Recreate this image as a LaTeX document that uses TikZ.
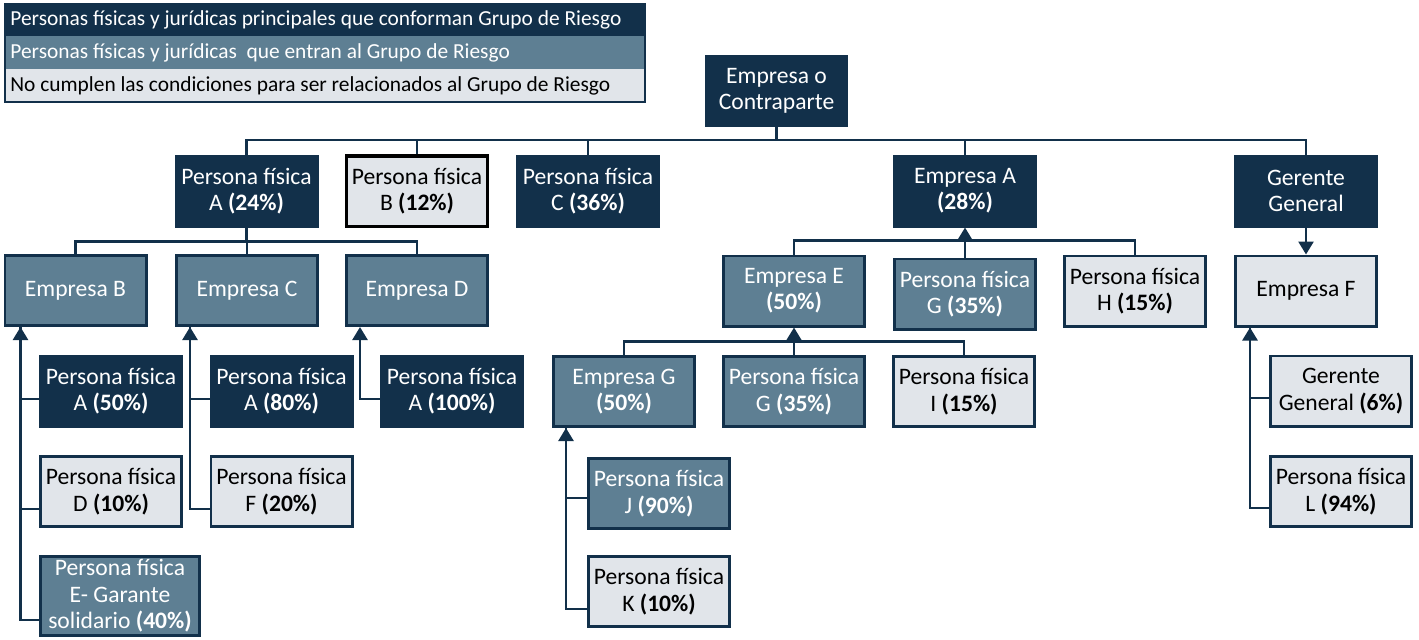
\documentclass[tikz,border=0pt]{standalone}
\usepackage{fontspec}
\setmainfont{Carlito}
\usetikzlibrary{arrows.meta,calc}
\definecolor{dk}{HTML}{12304A}
\definecolor{sl}{HTML}{5E7F93}
\definecolor{lt}{HTML}{E1E5EA}
\newcommand\fs{\fontsize{11.8}{13.2}\selectfont}
\newcommand\lfs{\fontsize{10.7}{12}\selectfont}
\tikzset{
 wh/.style 2 args={minimum width=#1*0.5pt-1.4pt, minimum height=#2*0.5pt-1.4pt},
 bx/.style={rectangle, align=center, inner sep=1pt, font=\fs, line width=1.4pt, wh={144}{73}},
 dkb/.style={bx, fill=dk, draw=dk, text=white},
 slb/.style={bx, fill=sl, draw=dk, text=white},
 ltb/.style={bx, fill=lt, draw=dk, text=black},
 leg/.style={anchor=west, font=\lfs, inner sep=0pt},
 conn/.style={draw=dk, line width=1.3pt},
 tipend/.style={-{Triangle[width=7.5pt,length=6.5pt]}},
}
\begin{document}
\begin{tikzpicture}[x=0.5pt,y=-0.5pt]
\useasboundingbox (0,0) rectangle (1419,639);
% legend
\fill[dk] (5,4) rectangle (645,36);
\fill[sl] (5,36) rectangle (645,69);
\fill[lt] (5,69) rectangle (645,102);
\draw[dk, line width=0.6pt] (5,4) rectangle (645,102);
\node[leg, text=white] (l1) at (10,20) {Personas físicas y jurídicas principales que conforman Grupo de Riesgo};
\node[leg, text=white] (l2) at (10,53) {Personas físicas y jurídicas~~que entran al Grupo de Riesgo};
\node[leg, text=black] (l3) at (10,86) {No cumplen las condiciones para ser relacionados al Grupo de Riesgo};
% level 0-1
\node[dkb, wh={143}{72}] (top) at (776.5,91) {Empresa o\\Contraparte};
\node[dkb] (pfa) at (246.5,191) {Persona física\\A \textbf{(24\%)}};
\node[ltb, draw=black, line width=1.6pt] (pfb) at (417,191) {Persona física\\B \textbf{(12\%)}};
\node[dkb] (pfc) at (588,191) {Persona física\\C \textbf{(36\%)}};
\node[dkb] (ema) at (965,191) {Empresa A\\\textbf{(28\%)}};
\node[dkb] (ger) at (1306,191) {Gerente\\General};
% level 2 left
\node[slb] (emb) at (75.5,290.5) {Empresa B};
\node[slb] (emc) at (247,290.5) {Empresa C};
\node[slb] (emd) at (417,290.5) {Empresa D};
\node[dkb] (pfa50) at (111,391) {Persona física\\A \textbf{(50\%)}};
\node[ltb] (pfd) at (111,491.5) {Persona física\\D \textbf{(10\%)}};
\node[slb, wh={162}{82}] (pfe) at (120,596) {Persona física\\E- Garante\\solidario \textbf{(40\%)}};
\node[dkb] (pfa80) at (281.5,391) {Persona física\\A \textbf{(80\%)}};
\node[ltb] (pff) at (281.5,491.5) {Persona física\\F \textbf{(20\%)}};
\node[dkb] (pfa100) at (452,391) {Persona física\\A \textbf{(100\%)}};
% middle
\node[slb] (eme) at (794,291) {Empresa E\\\textbf{(50\%)}};
\node[slb] (pfg1) at (965,294) {Persona física\\G \textbf{(35\%)}};
\node[ltb] (pfh) at (1135,291) {Persona física\\H \textbf{(15\%)}};
\node[ltb] (emf) at (1306,291) {Empresa F};
\node[slb] (emg) at (624,391.5) {Empresa G\\\textbf{(50\%)}};
\node[slb] (pfg2) at (794,391.5) {Persona física\\G \textbf{(35\%)}};
\node[ltb] (pfi) at (964,391.5) {Persona física\\I \textbf{(15\%)}};
\node[slb] (pfj) at (659,493.5) {Persona física\\J \textbf{(90\%)}};
\node[ltb] (pfk) at (659,591.5) {Persona física\\K \textbf{(10\%)}};
\node[ltb] (gg6) at (1341,391) {Gerente\\General \textbf{(6\%)}};
\node[ltb] (pfl) at (1341,491.5) {Persona física\\L \textbf{(94\%)}};
% connectors: top bus
\coordinate (bus0) at ([yshift=-6.5pt]top.south);
\draw[conn] (top.south) -- (bus0);
\draw[conn] (pfa.north) |- (bus0) -| (ger.north);
\foreach \n in {pfb,pfc,ema} \draw[conn] (\n.north) -- (\n.north |- bus0);
% PF A bus
\coordinate (busA) at ([yshift=-7pt]pfa.south);
\draw[conn] (pfa.south) -- (busA);
\draw[conn] (emb.north) |- (busA) -| (emd.north);
\draw[conn] (emc.north) -- (emc.north |- busA);
% Empresa B trunk
\coordinate (tB) at ([xshift=8.5pt]emb.south west);
\draw[conn] ([yshift=-4pt]pfa50.west) -| (tB);
\draw[conn] ([yshift=-8.75pt]pfd.west) -| (tB);
\draw[conn,tipend] ([yshift=-12pt]pfe.west) -| (tB);
% Empresa C trunk
\coordinate (tC) at ([xshift=7.5pt]emc.south west);
\draw[conn] ([yshift=-4pt]pfa80.west) -| (tC);
\draw[conn,tipend] ([yshift=-8.75pt]pff.west) -| (tC);
% Empresa D trunk
\coordinate (tD) at ([xshift=7.5pt]emd.south west);
\draw[conn,tipend] ([yshift=-4pt]pfa100.west) -| (tD);
% Empresa A bus
\coordinate (busE) at ([yshift=-6.5pt]ema.south);
\draw[conn] (eme.north) |- (busE) -| (pfh.north);
\draw[conn] (pfg1.north) -- (busE);
\draw[conn,tipend] (busE) -- (ema.south);
% Empresa E bus
\coordinate (busEE) at ([yshift=-7pt]eme.south);
\draw[conn] (emg.north) |- (busEE) -| (pfi.north);
\draw[conn,tipend] (pfg2.north) -- (eme.south);
% Empresa G trunk
\coordinate (tG) at ([xshift=7pt]emg.south west);
\draw[conn] ([yshift=-2.25pt]pfj.west) -| (tG);
\draw[conn,tipend] ([yshift=-8.75pt]pfk.west) -| (tG);
% Gerente -> Empresa F
\draw[conn,tipend] (ger.south) -- (emf.north);
% Empresa F trunk
\coordinate (tF) at ([xshift=8pt]emf.south west);
\draw[conn] ([yshift=-3.5pt]gg6.west) -| (tF);
\draw[conn,tipend] ([yshift=-8.25pt]pfl.west) -| (tF);
\end{tikzpicture}
\end{document}
